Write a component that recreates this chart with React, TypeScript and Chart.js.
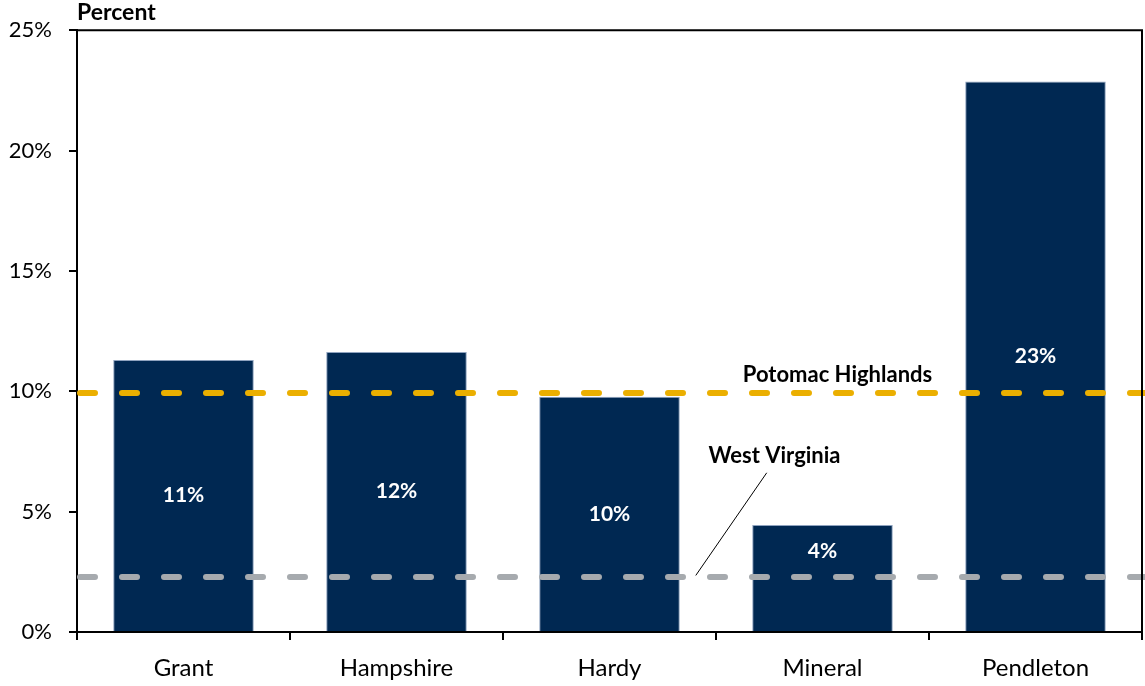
import React, { useEffect, useRef } from "react";
import { Chart, registerables } from "chart.js";

Chart.register(...registerables);

const categories = ["Grant", "Hampshire", "Hardy", "Mineral", "Pendleton"];
const values = [11.3, 11.63, 9.77, 4.44, 22.87];
const valueLabels = ["11%", "12%", "10%", "4%", "23%"];
const yTicks = [0, 5, 10, 15, 20, 25];
const refLabels = ["Potomac Highlands", "West Virginia"];
const refValues = [9.93, 2.28];
const refColors = ["#EBAF00", "#A6AAAE"];

const FONT = "Lato, 'Open Sans', sans-serif";

export default function App() {
  const ref = useRef<HTMLCanvasElement | null>(null);

  useEffect(() => {
    document.body.style.margin = "0";
    const canvas = ref.current!;
    const overlay = {
      id: "overlay",
      afterDatasetsDraw(chart: any) {
        const ctx = chart.ctx as CanvasRenderingContext2D;
        const { left, right, top, bottom } = chart.chartArea;
        const y = chart.scales.y;
        const x = chart.scales.x;
        ctx.save();
        // reference lines
        refValues.forEach((v, i) => {
          const py = y.getPixelForValue(v);
          ctx.beginPath();
          ctx.strokeStyle = refColors[i];
          ctx.lineWidth = 6;
          ctx.lineCap = "round";
          ctx.setLineDash([15, 27]);
          ctx.lineDashOffset = -3;
          ctx.moveTo(left, py);
          ctx.lineTo(right + 3, py);
          ctx.stroke();
        });
        ctx.setLineDash([]);
        // box border top/right
        ctx.beginPath();
        ctx.strokeStyle = "#000";
        ctx.lineWidth = 2;
        ctx.moveTo(left, top);
        ctx.lineTo(right, top);
        ctx.lineTo(right, bottom);
        ctx.stroke();
        // value labels
        const meta = chart.getDatasetMeta(0);
        const wvY = y.getPixelForValue(refValues[1]);
        ctx.fillStyle = "#fff";
        ctx.font = `bold 21px ${FONT}`;
        ctx.textAlign = "center";
        ctx.textBaseline = "middle";
        meta.data.forEach((bar: any, i: number) => {
          let ly = (bar.y + bar.base) / 2;
          if (ly > wvY - 14) ly = (bar.y + wvY) / 2;
          ctx.fillText(valueLabels[i], bar.x, ly);
        });
        // annotations
        const step = x.getPixelForValue(1) - x.getPixelForValue(0);
        const mineralX = x.getPixelForValue(3);
        ctx.fillStyle = "#000";
        ctx.font = `bold 22px ${FONT}`;
        ctx.fillText(refLabels[0], mineralX + 15, y.getPixelForValue(refValues[0]) - 18);
        ctx.fillText(refLabels[1], mineralX - 48, wvY - 121);
        ctx.beginPath();
        ctx.lineWidth = 1;
        ctx.moveTo(mineralX - 56, wvY - 104);
        ctx.lineTo(mineralX - step / 2 - 20, wvY - 2);
        ctx.stroke();
        // title
        ctx.textAlign = "left";
        ctx.textBaseline = "middle";
        ctx.font = `bold 23px ${FONT}`;
        ctx.fillText("Percent", left, 13);
        ctx.restore();
      },
    };

    const chart = new Chart(canvas, {
      type: "bar",
      data: {
        labels: categories,
        datasets: [
          {
            data: values,
            backgroundColor: "#002852",
            borderColor: "#8FA3BF",
            borderWidth: 1,
            barPercentage: 0.66,
            categoryPercentage: 1,
          },
        ],
      },
      plugins: [overlay],
      options: {
        responsive: false,
        animation: false,
        layout: { padding: { top: 29, right: 3, left: 0, bottom: 0 } },
        plugins: { legend: { display: false }, tooltip: { enabled: false } },
        scales: {
          x: {
            grid: { drawOnChartArea: false, tickLength: 8, color: "#000", lineWidth: 2, offset: true },
            border: { color: "#000", width: 2 },
            ticks: { color: "#000", font: { family: FONT, size: 24 }, padding: 14 },
            afterFit: (s: any) => { s.height = 54; },
          },
          y: {
            min: 0,
            max: 25,
            afterBuildTicks: (s: any) => { s.ticks = yTicks.map((v) => ({ value: v })); },
            grid: { drawOnChartArea: false, tickLength: 8, color: "#000", lineWidth: 2 },
            border: { color: "#000", width: 2 },
            ticks: {
              color: "#000",
              font: { family: FONT, size: 22 },
              padding: 17,
              callback: (v: any) => `${v}%`,
            },
            afterFit: (s: any) => { s.width = 77; },
          },
        },
      },
    });
    return () => chart.destroy();
  }, []);

  return (
    <div style={{ position: "fixed", left: 0, top: 0, width: 1145, height: 686, background: "#fff" }}>
      <canvas ref={ref} width={1145} height={686} style={{ width: 1145, height: 686 }} />
    </div>
  );
}
